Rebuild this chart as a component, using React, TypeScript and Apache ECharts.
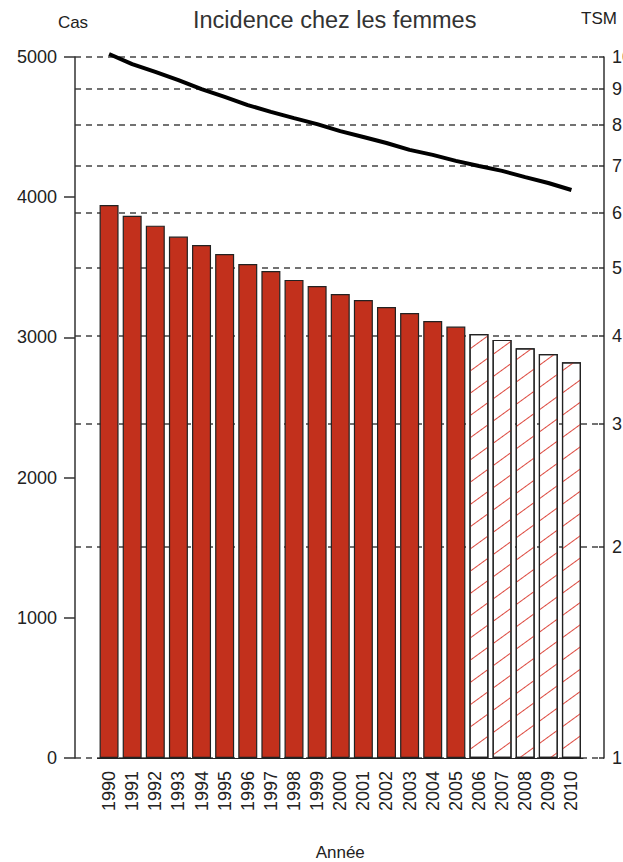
import React, { useEffect, useRef } from "react";
import * as echarts from "echarts";

const years = [
  "1990", "1991", "1992", "1993", "1994", "1995", "1996", "1997", "1998", "1999", "2000",
  "2001", "2002", "2003", "2004", "2005", "2006", "2007", "2008", "2009", "2010",
];
const cases = [
  3944, 3868, 3797, 3719, 3659, 3595, 3524, 3474, 3410, 3367, 3310,
  3267, 3217, 3174, 3117, 3077, 3024, 2982, 2922, 2882, 2823,
];
const tsm = [
  10.1, 9.77, 9.52, 9.27, 9.0, 8.77, 8.54, 8.35, 8.18, 8.02, 7.84,
  7.69, 7.54, 7.37, 7.25, 7.11, 6.99, 6.88, 6.74, 6.61, 6.46,
];
const firstProjectedYear = "2006";
const tsmTicks = [1, 2, 3, 4, 5, 6, 7, 8, 9, 10];

const FONT = "'Liberation Sans', Arial, sans-serif";
const AXIS_COLOR = "#333";
const LABEL_COLOR = "#222";

export default function App() {
  const ref = useRef<HTMLDivElement>(null);

  useEffect(() => {
    if (!ref.current) return;
    const chart = echarts.init(ref.current, undefined, { renderer: "svg" });
    const projStart = years.indexOf(firstProjectedYear);

    const barData = cases.map((v, i) =>
      i >= projStart
        ? {
            value: v,
            itemStyle: {
              color: "#ffffff",
              borderColor: "#222",
              borderWidth: 1.2,
              decal: {
                symbol: "rect",
                symbolSize: 1,
                color: "#dd4a40",
                dashArrayX: [1, 0],
                dashArrayY: [1, 17],
                rotation: -Math.PI / 5,
              },
            },
          }
        : v
    );

    chart.setOption({
      animation: false,
      backgroundColor: "#ffffff",
      textStyle: { fontFamily: FONT },
      graphic: [
        {
          type: "text",
          left: 193,
          top: 8,
          style: {
            text: "Incidence chez les femmes",
            fontSize: 23.5,
            fontFamily: FONT,
            fill: "#333",
          },
        },
        {
          type: "text",
          x: 73,
          y: 22,
          style: {
            text: "Cas",
            fontSize: 17,
            fontFamily: FONT,
            fill: "#222",
            align: "center",
            verticalAlign: "middle",
          },
        },
        {
          type: "text",
          x: 599,
          y: 18,
          style: {
            text: "TSM",
            fontSize: 17,
            fontFamily: FONT,
            fill: "#222",
            align: "center",
            verticalAlign: "middle",
          },
        },
      ],
      grid: [
        { left: 75, top: 57, width: 529, height: 701, outerBoundsMode: "none", containLabel: false },
        { left: 97.5, top: 57, width: 485.5, height: 701, outerBoundsMode: "none", containLabel: false },
      ],
      xAxis: [
        { gridIndex: 0, type: "value", min: 0, max: 1, show: false },
        {
          gridIndex: 1,
          type: "category",
          data: years,
          axisLine: { show: true, lineStyle: { color: "#222", width: 1 } },
          axisTick: { show: false },
          axisLabel: {
            interval: 0,
            rotate: 90,
            margin: 13,
            fontSize: 18,
            color: LABEL_COLOR,
            fontFamily: FONT,
          },
          name: "Année",
          nameLocation: "middle",
          nameGap: 86,
          nameTextStyle: { fontSize: 17, color: LABEL_COLOR, fontFamily: FONT },
        },
      ],
      yAxis: [
        {
          gridIndex: 0,
          type: "value",
          position: "left",
          min: 0,
          max: 5000,
          interval: 1000,
          axisLine: { show: true, lineStyle: { color: AXIS_COLOR, width: 1.5 } },
          axisTick: { show: true, length: 11, lineStyle: { color: AXIS_COLOR, width: 1.5 } },
          axisLabel: {
            margin: 18,
            fontSize: 18,
            color: LABEL_COLOR,
            fontFamily: FONT,
            formatter: (v: number) => String(v),
          },
          splitLine: { show: false },
        },
        {
          gridIndex: 0,
          type: "log",
          logBase: 10,
          position: "right",
          min: 1,
          max: 10,
          axisLine: { show: true, lineStyle: { color: AXIS_COLOR, width: 1.5 } },
          axisTick: {
            show: true,
            inside: true,
            length: 5,
            customValues: tsmTicks,
            lineStyle: { color: AXIS_COLOR, width: 1.5 },
          },
          axisLabel: {
            customValues: tsmTicks,
            margin: 8,
            fontSize: 18,
            color: LABEL_COLOR,
            fontFamily: FONT,
            formatter: (v: number) => String(v),
          },
          splitLine: {
            show: true,
            lineStyle: { color: "#444", width: 1.5, type: [6, 5] },
          },
        },
        { gridIndex: 1, type: "value", min: 0, max: 5000, show: false },
        { gridIndex: 1, type: "log", logBase: 10, min: 1, max: 10, show: false },
      ],
      series: [
        {
          type: "bar",
          xAxisIndex: 1,
          yAxisIndex: 2,
          barWidth: 19,
          data: barData,
          itemStyle: { color: "#c2301c", borderColor: "#222", borderWidth: 1.2 },
          z: 3,
        },
        {
          type: "line",
          xAxisIndex: 1,
          yAxisIndex: 3,
          data: tsm,
          symbol: "none",
          clip: false,
          lineStyle: { color: "#000", width: 4 },
          z: 5,
        },
      ],
    });

    return () => chart.dispose();
  }, []);

  return (
    <div
      ref={ref}
      style={{ position: "fixed", left: 0, top: 0, width: 623, height: 862 }}
    />
  );
}
